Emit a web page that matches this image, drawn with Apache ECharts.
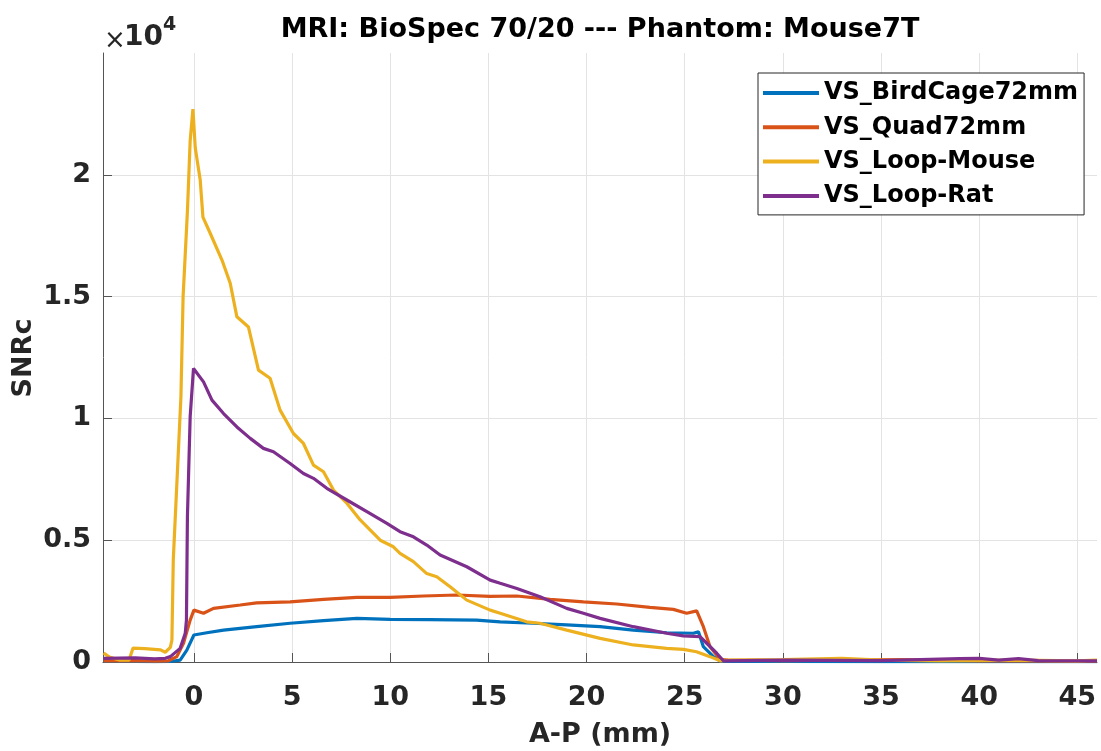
<!DOCTYPE html>
<html><head><meta charset="utf-8">
<script src="https://cdn.jsdelivr.net/npm/echarts@6/dist/echarts.min.js"></script>
<style>html,body{margin:0;padding:0;background:#fff}#c{width:1101px;height:751px}</style>
</head><body><div id="c"></div>
<script>
const titleText = 'MRI: BioSpec 70/20 --- Phantom: Mouse7T';
const xName = 'A-P (mm)';
const yName = 'SNRc';
const seriesNames = ['VS_BirdCage72mm', 'VS_Quad72mm', 'VS_Loop-Mouse', 'VS_Loop-Rat'];
const colors = ['#0072BD', '#D95319', '#EDB120', '#7E2F8E'];

const xTicks = [0, 5, 10, 15, 20, 25, 30, 35, 40, 45];
const yTicks = [0, 5000, 10000, 15000, 20000];

const xBird = [-4.6, -3, -2, -1.2, -0.7, -0.36, 0, 0.66, 1.51, 3.2, 4.9, 6.6, 8.3, 10.0, 12, 14.4, 15.6, 17.29, 18.99, 20.69, 22.38, 24.08, 25.44, 25.7, 25.95, 26.46, 26.8, 27.2, 30, 35, 40, 46];
const yBird = [30, 20, 10, 20, 80, 490, 1110, 1200, 1310, 1450, 1590, 1700, 1790, 1750, 1740, 1720, 1650, 1590, 1520, 1450, 1310, 1200, 1180, 1240, 630, 220, 50, 20, 20, 10, 20, 10];

const xQuad = [-4.6, -3, -2, -1.3, -0.87, -0.53, -0.19, 0, 0.49, 1.0, 2.36, 3.2, 4.9, 6.6, 8.3, 10.0, 11.69, 13.39, 15.09, 16.45, 18.14, 19.84, 21.54, 23.23, 24.42, 25.1, 25.61, 25.95, 26.29, 26.8, 27.2, 30, 33, 36, 40, 46];
const yQuad = [50, 60, 40, 50, 220, 770, 1720, 2130, 2000, 2200, 2340, 2430, 2470, 2570, 2650, 2650, 2710, 2750, 2690, 2710, 2570, 2470, 2380, 2240, 2160, 2000, 2100, 1450, 630, 110, 80, 60, 80, 100, 50, 30];

const xMouse = [-4.6, -4.3, -3.8, -3.3, -3.1, -2.5, -1.7, -1.46, -1.2, -1.12, -1.05, -0.66, -0.55, -0.33, -0.19, -0.05, 0.07, 0.32, 0.46, 0.83, 1.43, 1.85, 2.19, 2.78, 3.29, 3.88, 4.39, 5.07, 5.58, 6.09, 6.6, 7.11, 7.79, 8.47, 9.49, 10.16, 10.5, 11.18, 11.86, 12.37, 13.05, 13.9, 15.09, 15.6, 16.95, 17.63, 18.99, 20.69, 22.38, 24.08, 24.93, 25.6, 26.29, 26.8, 27.2, 30, 33, 35, 38, 42, 45, 46];
const yMouse = [370, 200, 80, 80, 570, 550, 500, 400, 600, 900, 4200, 10900, 15000, 18500, 21400, 22700, 21100, 19800, 18260, 17600, 16500, 15550, 14170, 13750, 11980, 11650, 10340, 9380, 8970, 8080, 7810, 7060, 6520, 5830, 5000, 4730, 4460, 4120, 3630, 3500, 3090, 2540, 2130, 2000, 1650, 1590, 1310, 970, 700, 560, 520, 420, 220, 50, 80, 100, 150, 80, 50, 80, 50, 80];

const xRat = [-4.6, -3, -2, -1.46, -1.2, -0.7, -0.44, -0.38, -0.33, -0.19, -0.02, 0.49, 0.92, 1.51, 2.19, 2.87, 3.54, 4.05, 4.9, 5.58, 6.09, 6.77, 7.79, 8.81, 9.83, 10.5, 11.18, 11.86, 12.54, 13.9, 15.09, 15.6, 16.45, 17.63, 18.99, 19.84, 20.69, 22.38, 24.08, 24.93, 25.78, 26.12, 26.63, 26.97, 30, 35, 39, 40, 41, 42, 43, 46];
const yRat = [150, 170, 130, 150, 220, 560, 1180, 1720, 5960, 10070, 12050, 11500, 10750, 10200, 9650, 9180, 8770, 8630, 8150, 7740, 7540, 7130, 6650, 6170, 5690, 5350, 5140, 4800, 4390, 3910, 3360, 3230, 3020, 2680, 2200, 2000, 1790, 1450, 1180, 1070, 1040, 770, 360, 50, 80, 60, 140, 150, 80, 140, 60, 50];

const allX = [xBird, xQuad, xMouse, xRat];
const allY = [yBird, yQuad, yMouse, yRat];

const FONT = 'DejaVu Sans';
const TXT = '#262626';
const AX = '#555555';

const chart = echarts.init(document.getElementById('c'), null, {renderer: 'canvas'});
const series = seriesNames.map((name, i) => ({
  name: name,
  type: 'line',
  data: allX[i].map((x, k) => [x, allY[i][k]]),
  showSymbol: false,
  symbol: 'none',
  lineStyle: {color: colors[i], width: 3.2},
  itemStyle: {color: colors[i]},
  animation: false,
  z: 3 + i
}));

chart.setOption({
  animation: false,
  backgroundColor: '#ffffff',
  grid: {left: 103, right: 4, top: 53, bottom: 89, containLabel: false, outerBoundsMode: 'none'},
  xAxis: {
    type: 'value', min: -4.63, max: 46.0,
    name: xName, nameLocation: 'middle', nameGap: 59,
    nameTextStyle: {fontFamily: FONT, fontWeight: 'bold', fontSize: 27, color: TXT},
    axisLine: {show: true, onZero: false, lineStyle: {color: AX, width: 1}},
    axisTick: {show: true, inside: true, length: 9, customValues: xTicks, lineStyle: {color: AX}},
    axisLabel: {customValues: xTicks, margin: 22, fontFamily: FONT, fontWeight: 'bold', fontSize: 27, color: TXT},
    splitLine: {show: true, lineStyle: {color: '#e3e3e3', width: 1}}
  },
  yAxis: {
    type: 'value', min: 0, max: 25000,
    axisLine: {show: true, onZero: false, lineStyle: {color: AX, width: 1}},
    axisTick: {show: true, inside: true, length: 9, customValues: yTicks, lineStyle: {color: AX}},
    axisLabel: {customValues: yTicks, margin: 12, fontFamily: FONT, fontWeight: 'bold', fontSize: 27, color: TXT,
      formatter: v => String(v / 10000)},
    splitLine: {show: true, lineStyle: {color: '#e3e3e3', width: 1}}
  },
  legend: {
    data: seriesNames,
    orient: 'vertical',
    left: 758, top: 73,
    icon: 'rect', itemWidth: 56, itemHeight: 4, itemGap: 4.3,
    padding: [5, 6, 4, 5],
    backgroundColor: '#ffffff', borderColor: '#262626', borderWidth: 1,
    textStyle: {fontFamily: FONT, fontWeight: 'bold', fontSize: 24, color: '#000', lineHeight: 30}
  },
  graphic: [
    {type: 'text', x: 600, y: 30, z: 10,
      style: {text: titleText, font: 'bold 27px "DejaVu Sans"', fill: '#000', align: 'center', verticalAlign: 'middle'}},
    {type: 'text', x: 24, y: 358, rotation: Math.PI / 2, z: 10,
      style: {text: yName, font: 'bold 27px "DejaVu Sans"', fill: TXT, align: 'center', verticalAlign: 'middle'}},
    {type: 'text', x: 104, y: 41, z: 10,
      style: {text: '\u00d7', font: '26px "DejaVu Sans"', fill: TXT, align: 'left', verticalAlign: 'middle'}},
    {type: 'text', x: 124, y: 37.5, z: 10,
      style: {text: '10', font: 'bold 28px "DejaVu Sans"', fill: TXT, align: 'left', verticalAlign: 'middle'}},
    {type: 'text', x: 163, y: 25, z: 10,
      style: {text: '4', font: 'bold 19px "DejaVu Sans"', fill: TXT, align: 'left', verticalAlign: 'middle'}}
  ],
  series: series
});
</script>
</body></html>
